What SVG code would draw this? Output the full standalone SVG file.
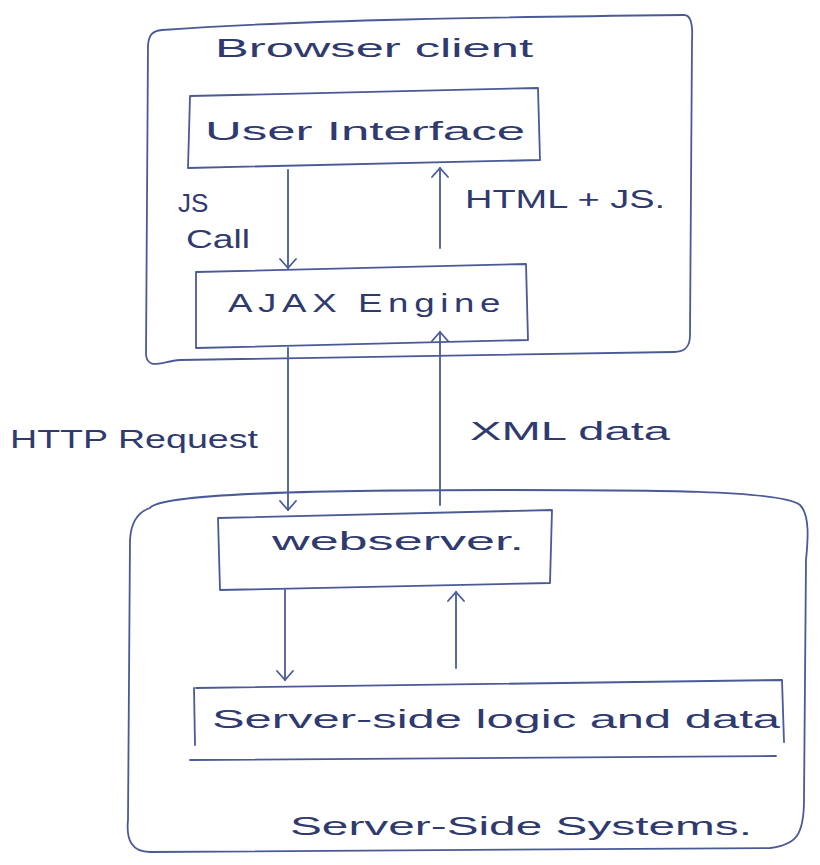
<svg xmlns="http://www.w3.org/2000/svg" width="820" height="865" viewBox="0 0 820 865">
<style>
.ln{fill:none;stroke:#4a5a96;stroke-width:1.8;stroke-linecap:round;stroke-linejoin:round}
.t{font-family:"Liberation Sans",Arial,sans-serif;fill:#2f3a6e;font-size:26px}
</style>
<defs>
<marker id="ah" markerWidth="20" markerHeight="20" refX="10" refY="10" orient="auto" markerUnits="userSpaceOnUse">
<path d="M1,2 L10,10 L1,18" fill="none" stroke="#4a5a96" stroke-width="1.8" stroke-linecap="round"/>
</marker>
</defs>
<rect width="820" height="865" fill="#ffffff"/>
<g id="browser-client">
<path class="ln" d="M162,30 C300,20 500,17 684,15 C690,15 693,22 692,40 L690,335 C690,346 686,352 674,352 L180,360 C160,362 148,370 146,355 L148,45 C149,35 152,31 162,30 Z"/>
<text class="t" x="215" y="57" textLength="318" lengthAdjust="spacingAndGlyphs">Browser client</text>
</g>
<g id="user-interface">
<path class="ln" d="M190,96 L538,88 L540,160 L188,168 Z"/>
<text class="t" x="205" y="140" textLength="320" lengthAdjust="spacingAndGlyphs">User Interface</text>
</g>
<g id="ajax-engine">
<path class="ln" d="M196,272 L526,264 L528,340 L196,348 Z"/>
<text class="t" x="228" y="312" textLength="278" lengthAdjust="spacingAndGlyphs" letter-spacing="4">AJAX Engine</text>
</g>
<g id="webserver">
<path class="ln" d="M218,518 L552,510 L550,583 L220,590 Z"/>
<text class="t" x="272" y="550" textLength="252" lengthAdjust="spacingAndGlyphs">webserver.</text>
</g>
<g id="server-logic">
<path class="ln" d="M196,688 L782,680 L784,742 M194,688 L195,745 M190,760 L776,756"/>
<text class="t" x="212" y="728" textLength="568" lengthAdjust="spacingAndGlyphs">Server-side logic and data</text>
</g>
<g id="server-side-systems">
<path class="ln" d="M150,508 C160,494 300,490 500,490 C650,490 780,490 800,505 C810,515 808,540 806,560 L804,800 C804,835 796,845 770,848 L150,852 C132,852 126,840 128,820 L130,540 C131,522 138,512 150,508 Z"/>
<text class="t" x="290" y="835" textLength="462" lengthAdjust="spacingAndGlyphs">Server-Side Systems.</text>
</g>
<g id="connectors">
<path class="ln" d="M288,170 L288,268" marker-end="url(#ah)"/>
<path class="ln" d="M440,248 L440,168" marker-end="url(#ah)"/>
<path class="ln" d="M288,348 L288,510" marker-end="url(#ah)"/>
<path class="ln" d="M440,505 L440,332" marker-end="url(#ah)"/>
<path class="ln" d="M285,590 L285,680" marker-end="url(#ah)"/>
<path class="ln" d="M456,668 L456,592" marker-end="url(#ah)"/>
<text class="t" x="178" y="212" font-size="22">JS</text>
<text class="t" x="186" y="248" textLength="64" lengthAdjust="spacingAndGlyphs">Call</text>
<text class="t" x="465" y="208" textLength="200" lengthAdjust="spacingAndGlyphs" font-size="22">HTML + JS.</text>
<text class="t" x="10" y="448" textLength="248" lengthAdjust="spacingAndGlyphs">HTTP Request</text>
<text class="t" x="470" y="440" textLength="200" lengthAdjust="spacingAndGlyphs">XML data</text>
</g>
</svg>
